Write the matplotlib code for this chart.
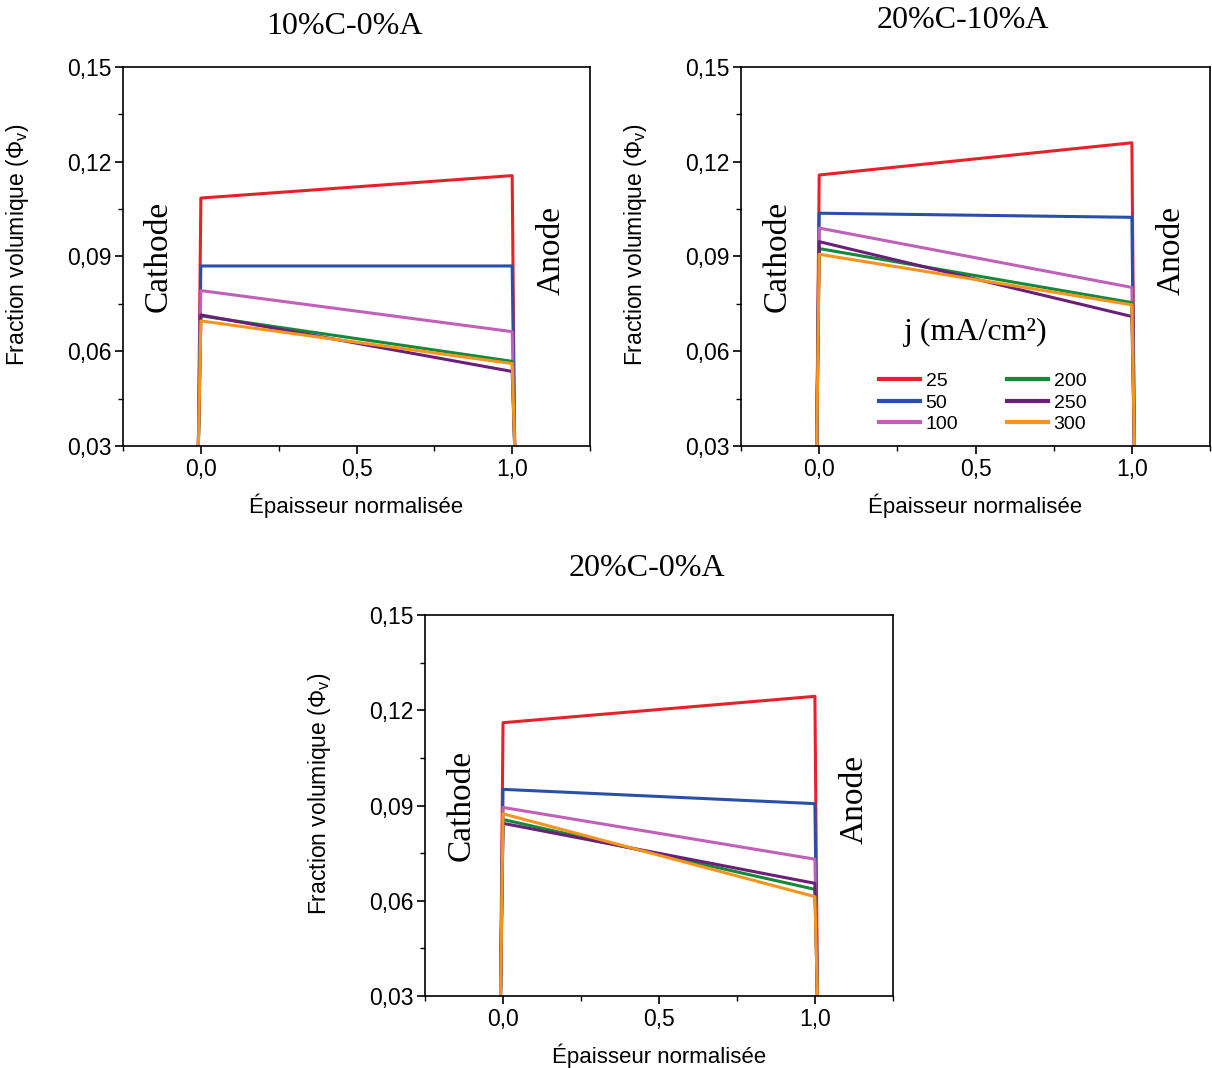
import matplotlib.pyplot as plt
from matplotlib.ticker import FuncFormatter, MultipleLocator

plt.rcParams['font.family'] = ['Liberation Sans', 'DejaVu Sans']
plt.rcParams['mathtext.default'] = 'regular'

# current densities (mA/cm2) and colours
currents = ['25', '50', '100', '200', '250', '300']
colors = ['#e8202a', '#2a4fa8', '#c060b8', '#138a3a', '#6a1f7a', '#f7941d']

# x: bottom of cathode wall, cathode, anode, bottom of anode wall
x_pts = [-0.008, 0.0, 1.0, 1.008]
y_floor = 0.03

# volume fraction at cathode (x=0) and anode (x=1) for each current
c10_a0_cathode = [0.1085, 0.0870, 0.0792, 0.0712, 0.0715, 0.0696]
c10_a0_anode = [0.1156, 0.0870, 0.0662, 0.0568, 0.0536, 0.0561]

c20_a10_cathode = [0.1158, 0.1037, 0.0990, 0.0925, 0.0947, 0.0907]
c20_a10_anode = [0.1260, 0.1024, 0.0802, 0.0754, 0.0710, 0.0747]

c20_a0_cathode = [0.1161, 0.0951, 0.0894, 0.0856, 0.0844, 0.0874]
c20_a0_anode = [0.1244, 0.0906, 0.0731, 0.0636, 0.0655, 0.0613]

panels = [
    ('10%C-0%A', c10_a0_cathode, c10_a0_anode, [0.1015, 0.5824, 0.3853, 0.3549], 24),
    ('20%C-10%A', c20_a10_cathode, c20_a10_anode, [0.6114, 0.5824, 0.3870, 0.3549], 28),
    ('20%C-0%A', c20_a0_cathode, c20_a0_anode, [0.3507, 0.0674, 0.3860, 0.3567], 28),
]

comma = FuncFormatter(lambda v, p: ('%.2f' % v).replace('.', ','))
comma1 = FuncFormatter(lambda v, p: ('%.1f' % v).replace('.', ','))

fig = plt.figure(figsize=(12.12, 10.68), dpi=100)

axes = []
for title, cath, anod, rect, tpad in panels:
    ax = fig.add_axes(rect)
    for i in range(len(currents)):
        ys = [y_floor, cath[i], anod[i], y_floor]
        ax.plot(x_pts, ys, color=colors[i], lw=2.2, label=currents[i])
    ax.set_xlim(-0.25, 1.25)
    ax.set_ylim(0.03, 0.15)
    ax.yaxis.set_major_locator(MultipleLocator(0.03))
    ax.yaxis.set_minor_locator(MultipleLocator(0.015))
    ax.xaxis.set_major_locator(MultipleLocator(0.5))
    ax.xaxis.set_minor_locator(MultipleLocator(0.25))
    ax.yaxis.set_major_formatter(comma)
    ax.xaxis.set_major_formatter(comma1)
    ax.tick_params(which='major', direction='out', length=6, width=1.2, labelsize=16.5, pad=2.5)
    ax.tick_params(which='minor', direction='out', length=3.5, width=1.0)
    for s in ax.spines.values():
        s.set_linewidth(1.2)
    ax.set_ylabel('Fraction volumique (Φ$_{v}$)', fontsize=16.5)
    ax.yaxis.set_label_coords(-0.197, 0.53)
    ax.set_xlabel('Épaisseur normalisée', fontsize=16, labelpad=9)
    ax.set_title(title, family='Liberation Serif', fontsize=23, pad=tpad, x=0.474)
    ax.text(-0.135, 0.09, 'Cathode', rotation=90, family='Liberation Serif',
            fontsize=24, ha='center', va='center')
    ax.text(1.125, 0.092, 'Anode', rotation=90, family='Liberation Serif',
            fontsize=24, ha='center', va='center')
    axes.append(ax)

ax = axes[1]
ax.text(0.5, 0.30, 'j (mA/cm²)', transform=ax.transAxes, ha='center',
        va='center', family='Liberation Serif', fontsize=23)
leg = ax.legend(loc='lower center', bbox_to_anchor=(0.515, -0.012), ncol=2, frameon=False,
                fontsize=14, handlelength=2.1, columnspacing=2.5, labelspacing=0.2,
                handletextpad=0.3)
for h in leg.get_lines():
    h.set_linewidth(3)

fig.savefig('out.png', dpi=100)
